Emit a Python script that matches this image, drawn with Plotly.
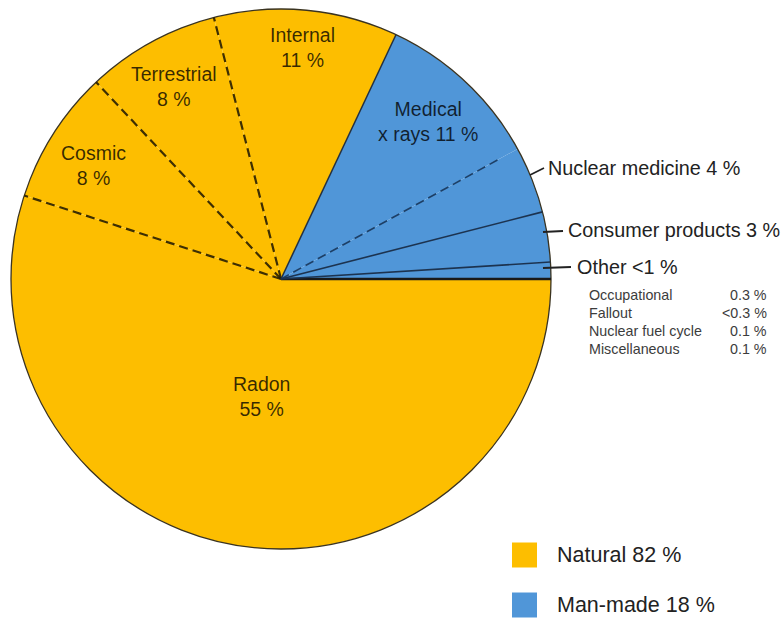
import math
import plotly.graph_objects as go

W, H = 784, 618

# ---------------- data ----------------
slices = ["Radon", "Cosmic", "Terrestrial", "Internal", "Medical x rays",
          "Nuclear medicine", "Consumer products", "Other"]
values = [55, 8, 8, 11, 10, 4, 3, 1]
groups = ["Natural", "Natural", "Natural", "Natural",
          "Man-made", "Man-made", "Man-made", "Man-made"]
inside_text = ["Radon<br>55 %", "Cosmic<br>8 %", "Terrestrial<br>8 %", "Internal<br>11 %",
               "Medical<br>x rays 11 %"]
outside_text = ["Nuclear medicine 4 %", "Consumer products 3 %", "Other <1 %"]
other_items = ["Occupational", "Fallout", "Nuclear fuel cycle", "Miscellaneous"]
other_values = ["0.3 %", "<0.3 %", "0.1 %", "0.1 %"]
legend_labels = ["Natural 82 %", "Man-made 18 %"]

# ---------------- style ----------------
YELLOW = "#FDBE00"
BLUE = "#5096D8"
group_color = {"Natural": YELLOW, "Man-made": BLUE}
TXT = "rgba(0,0,0,0.78)"
FONT = "Liberation Sans, Arial, sans-serif"

CX, CY, R = 281, 279, 270  # pie centre / radius in px (screen coords)


def px(x):
    return x / W


def py(y):
    return 1 - y / H


fig = go.Figure()
fig.add_trace(go.Pie(
    labels=slices, values=values, sort=False, direction="clockwise", rotation=90,
    marker=dict(colors=[group_color[g] for g in groups], line=dict(width=0)),
    textinfo="none", hoverinfo="label+percent", showlegend=False,
    domain=dict(x=[px(CX - R), px(CX + R)], y=[py(CY + R), py(CY - R)]),
))

total = sum(values)
cum = [0]
for v in values[:-1]:
    cum.append(cum[-1] + v)
fracs = [c / total for c in cum]


def edge(f, rr):
    a = 2 * math.pi * f
    return CX + rr * math.cos(a), CY + rr * math.sin(a)


# boundary style for the start edge of each slice
bstyle = [
    dict(color="#1a1a1a", width=2.6, dash="solid"),
    dict(color="rgba(40,30,0,0.9)", width=2.2, dash="9px,5px"),
    dict(color="rgba(40,30,0,0.9)", width=2.2, dash="9px,5px"),
    dict(color="rgba(40,30,0,0.9)", width=2.2, dash="9px,5px"),
    dict(color="#233040", width=1.5, dash="solid"),
    dict(color="#1d3f66", width=1.6, dash="9px,5px"),
    dict(color="#1c3350", width=1.6, dash="solid"),
    dict(color="#1c3350", width=1.6, dash="solid"),
]
reach = [1.0, 1.0, 1.0, 1.0, 1.0, 0.92, 1.0, 1.0]

shapes = []
# outer outline
shapes.append(dict(type="circle", xref="paper", yref="paper",
                   x0=px(CX - R), x1=px(CX + R), y0=py(CY + R), y1=py(CY - R),
                   line=dict(color="#3a3320", width=1.3), layer="above"))
for f, st, rc in zip(fracs, bstyle, reach):
    x1, y1 = edge(f, R * rc)
    shapes.append(dict(type="line", xref="paper", yref="paper",
                       x0=px(CX), y0=py(CY), x1=px(x1), y1=py(y1),
                       line=st, layer="above"))

annotations = []
# inside labels (centre px)
inside_pos = [(261, 396), (93, 165), (174, 87), (302, 47), (428, 122)]
for t, (x, y) in zip(inside_text, inside_pos):
    annotations.append(dict(text=t, x=px(x), y=py(y), xref="paper", yref="paper",
                            showarrow=False, font=dict(size=19.5, color=TXT, family=FONT),
                            xanchor="center", yanchor="middle"))

# outside labels with leader lines
out_pos = [(546, 168), (566, 230), (575, 267)]
leaders = [((530, 175), (544, 168)), ((543, 232), (563, 231)), ((543, 268), (571, 267))]
for t, (x, y) in zip(outside_text, out_pos):
    annotations.append(dict(text=t, x=px(x), y=py(y), xref="paper", yref="paper",
                            showarrow=False, font=dict(size=19.8, color="#222", family=FONT),
                            xanchor="left", yanchor="middle"))
for (a, b) in leaders:
    shapes.append(dict(type="line", xref="paper", yref="paper",
                       x0=px(a[0]), y0=py(a[1]), x1=px(b[0]), y1=py(b[1]),
                       line=dict(color="#222", width=1.8), layer="above"))

# "Other" breakdown table
row_y = [295, 313, 331, 349]
for name, val, y in zip(other_items, other_values, row_y):
    annotations.append(dict(text=name, x=px(587), y=py(y), xref="paper", yref="paper",
                            showarrow=False, font=dict(size=14.3, color="#3c3c3c", family=FONT),
                            xanchor="left", yanchor="middle"))
    annotations.append(dict(text=val, x=px(769), y=py(y), xref="paper", yref="paper",
                            showarrow=False, font=dict(size=14.3, color="#3c3c3c", family=FONT),
                            xanchor="right", yanchor="middle"))

# legend
leg_y = [555, 605]
for lab, g, y in zip(legend_labels, ["Natural", "Man-made"], leg_y):
    shapes.append(dict(type="rect", xref="paper", yref="paper",
                       x0=px(512), x1=px(537), y0=py(y + 12.5), y1=py(y - 12.5),
                       fillcolor=group_color[g], line=dict(width=0)))
    annotations.append(dict(text=lab, x=px(555), y=py(y), xref="paper", yref="paper",
                            showarrow=False, font=dict(size=21.5, color="#222", family=FONT),
                            xanchor="left", yanchor="middle"))

fig.update_layout(
    width=W, height=H, margin=dict(l=0, r=0, t=0, b=0),
    paper_bgcolor="white", plot_bgcolor="white",
    shapes=shapes, annotations=annotations, showlegend=False,
)
fig.write_html("out.html")
